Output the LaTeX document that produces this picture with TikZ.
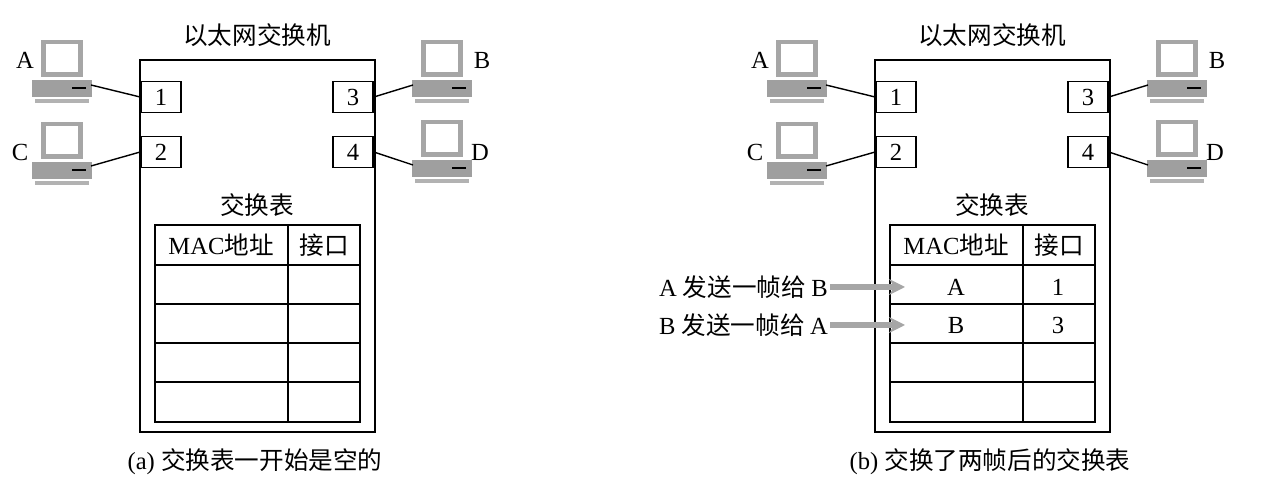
\documentclass[tikz,border=0pt]{standalone}
\usepackage{fontspec}
\setmainfont{Liberation Serif}
\newfontfamily\cjk{Noto Sans CJK SC}
\usetikzlibrary{arrows.meta}
\tikzset{
 port/.style={draw,line width=1pt,minimum width=0.8cm,minimum height=0.62cm,inner sep=0pt,font=\fontsize{14}{16}\selectfont,fill=white},
 lbl/.style={font=\fontsize{14}{16}\selectfont,inner sep=1pt},
 wire/.style={line width=0.8pt},
 frm/.style={-{Stealth[length=9pt,width=9pt]},line width=3.5pt,gray!70},
 pics/pc/.style={code={
   \fill[gray!70] (-21,-40) rectangle (21,-3);
   \fill[white] (-16,-36) rectangle (16,-8);
   \fill[gray!75] (-30,0) rectangle (30,17);
   \draw[black,line width=1pt] (10,8) -- (24,8);
   \fill[gray!60] (-27,19) rectangle (27,23);
 }}
}
\begin{document}
\begin{tikzpicture}[x=0.02cm,y=-0.02cm]
\useasboundingbox (0,0) rectangle (1264,482);
\foreach \o/\cap/\tag in {0/{(a) \cjk 交换表一开始是空的}/a,735/{(b) \cjk 交换了两帧后的交换表}/b}{
 \begin{scope}[xshift=\o*0.02cm]
  \draw[line width=1pt] (140,60) rectangle (375,432);
  \node[lbl] (title\tag) at (257,35) {\cjk 以太网交换机};
  \node[port] (p1\tag) at (161,97) {1};
  \node[port] (p2\tag) at (161,152) {2};
  \node[port] (p3\tag) at (353,97) {3};
  \node[port] (p4\tag) at (353,152) {4};
  \pic at (62,80) {pc}; \coordinate (cA\tag) at (91,85);
  \pic at (62,162) {pc}; \coordinate (cC\tag) at (91,166);
  \pic at (442,80) {pc}; \coordinate (cB\tag) at (413,85);
  \pic at (442,160) {pc}; \coordinate (cD\tag) at (413,165);
  \node[lbl] (lA\tag) at (25,60) {A};
  \node[lbl] (lC\tag) at (20,152) {C};
  \node[lbl] (lB\tag) at (482,60) {B};
  \node[lbl] (lD\tag) at (480,152) {D};
  \draw[wire] (cA\tag) -- (p1\tag.west);
  \draw[wire] (cC\tag) -- (p2\tag.west);
  \draw[wire] (cB\tag) -- (p3\tag.east);
  \draw[wire] (cD\tag) -- (p4\tag.east);
  \node[lbl] (tt\tag) at (257,205) {\cjk 交换表};
  \draw[line width=1pt] (155,225) rectangle (360,422);
  \draw[line width=0.8pt] (288,225) -- (288,422);
  \foreach \y in {265,304,343,382} \draw[line width=0.8pt] (155,\y) -- (360,\y);
  \node[lbl] (h1\tag) at (221,245) {MAC\cjk 地址};
  \node[lbl] (h2\tag) at (324,245) {\cjk 接口};
  \node[lbl] (cap\tag) at (255,462) {\cap};
 \end{scope}}
\node[lbl] (rA) at (956,287) {A};
\node[lbl] (rA1) at (1058,287) {1};
\node[lbl] (rB) at (956,325) {B};
\node[lbl] (rB3) at (1058,325) {3};
\node[lbl,anchor=east] (sA) at (830,287) {A \cjk 发送一帧给 \rmfamily B};
\node[lbl,anchor=east] (sB) at (830,325) {B \cjk 发送一帧给 \rmfamily A};
\draw[frm] (sA.east) -- (rA.west -| 905,0);
\draw[frm] (sB.east) -- (rB.west -| 905,0);
\end{tikzpicture}
\end{document}
